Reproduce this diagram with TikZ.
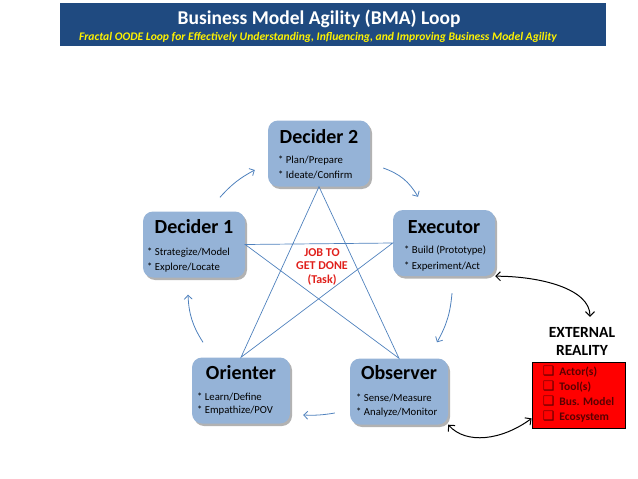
\documentclass[tikz,border=0pt]{standalone}
\usepackage{fontspec}
\setmainfont{Carlito}
\newfontfamily\symfont{DejaVu Sans}
\usetikzlibrary{arrows.meta,shadows,positioning}

\definecolor{bandblue}{HTML}{1F4A80}
\definecolor{boxblue}{HTML}{95B3D7}
\definecolor{linkblue}{HTML}{4F81BD}
\definecolor{jobred}{HTML}{E0201B}
\definecolor{itemred}{HTML}{5A0000}

\begin{document}
\begin{tikzpicture}[x=1pt,y=-1pt,
  role/.style={fill=boxblue,rounded corners=10pt,minimum width=102pt,minimum height=66pt,inner sep=0pt,
               drop shadow={shadow xshift=2pt,shadow yshift=-2.5pt,opacity=.3,fill=black}},
  rolename/.style={anchor=base,font=\fontsize{20}{24}\selectfont\bfseries},
  roletask/.style={anchor=base west,inner sep=0pt,font=\fontsize{10.7}{13}\selectfont},
  cycle/.style={draw=linkblue,line width=0.8pt,-{Straight Barb[length=4pt,width=8pt]}},
  star/.style={draw=linkblue,line width=0.7pt},
  world/.style={black,line width=1pt,{Straight Barb[length=4.5pt,width=9pt]}-{Straight Barb[length=4.5pt,width=9pt]}}]

\useasboundingbox (0,0) rectangle (638,479);

% header
\node[fill=bandblue,minimum width=546pt,minimum height=43pt,anchor=north west,inner sep=0pt] (band) at (60,3) {};
\node[anchor=base,white,font=\fontsize{19.5}{22}\selectfont\bfseries] (title) at (319,24) {Business Model Agility (BMA) Loop};
\node[anchor=base,yellow,font=\fontsize{11.6}{12}\selectfont\bfseries\itshape] (subtitle) at (318,40.5)
  {Fractal OODE Loop for Effectively Understanding, Influencing, and Improving Business Model Agility};

% the five roles
\node[role] (d2) at (319,153.5) {};
\node[role] (d1) at (194,244.5) {};
\node[role] (ex) at (444,243) {};
\node[role,minimum width=98pt] (or) at (241,390.5) {};
\node[role,minimum width=98pt] (ob) at (399,391.5) {};

\node[rolename] (d2 name) at (319,143.5) {Decider 2};
\node[roletask] (d2 a) at (278,163.5) {* Plan/Prepare};
\node[roletask] (d2 b) at (278,178.5) {* Ideate/Confirm};

\node[rolename] (d1 name) at (194,233.5) {Decider 1};
\node[roletask] (d1 a) at (147,255.5) {* Strategize/Model};
\node[roletask] (d1 b) at (147,270.5) {* Explore/Locate};

\node[rolename] (ex name) at (444,233.5) {Executor};
\node[roletask] (ex a) at (404,253.5) {* Build (Prototype)};
\node[roletask] (ex b) at (404,269.5) {* Experiment/Act};

\node[rolename] (or name) at (241,379.5) {Orienter};
\node[roletask] (or a) at (197,400.5) {* Learn/Define};
\node[roletask] (or b) at (197,413.5) {* Empathize/POV};

\node[rolename] (ob name) at (399,379.5) {Observer};
\node[roletask] (ob a) at (356,401.5) {* Sense/Measure};
\node[roletask] (ob b) at (356,415.5) {* Analyze/Monitor};

% star
\draw[star] (d2.south) -- (or.north) -- (ex.west) -- (d1.east) -- (ob.north) -- cycle;

\node[align=center,jobred,font=\fontsize{12}{13.5}\selectfont\bfseries] (job) at (322,266.5) {JOB TO\\GET DONE\\(Task)};

% loop
\draw[cycle] ([shift={(26,-14)}]d1.north) to[bend left=10] ([shift={(-13,16.5)}]d2.west);
\draw[cycle] ([shift={(13,14.5)}]d2.east) to[bend left=20] ([shift={(-26,-13)}]ex.north);
\draw[cycle] ([shift={(8,17)}]ex.south) to[bend left=12] ([shift={(38,-16)}]ob.north);
\draw[cycle] ([shift={(-15,21.5)}]ob.west) to[bend left=6] ([shift={(13,24.5)}]or.east);
\draw[cycle] ([shift={(-38,-15)}]or.north) to[bend left=15] ([shift={(-6,17)}]d1.south);

% external reality
\node[align=center,inner sep=0pt,font=\fontsize{15.5}{18}\selectfont\bfseries] (ext) at (582,341) {EXTERNAL\\REALITY};
\node[draw=black,line width=0.8pt,fill=red,minimum width=93pt,minimum height=66pt,inner sep=0pt,
      text=itemred,font=\fontsize{11.5}{15}\selectfont\bfseries] (rbox) at (578.5,395)
  {\begin{tabular}{@{}l@{\hspace{5pt}}l@{}}
   {\symfont\fontsize{13}{13}\selectfont\char"2751} & Actor(s)\\
   {\symfont\fontsize{13}{13}\selectfont\char"2751} & Tool(s)\\
   {\symfont\fontsize{13}{13}\selectfont\char"2751} & Bus. Model\\
   {\symfont\fontsize{13}{13}\selectfont\char"2751} & Ecosystem
   \end{tabular}};

\draw[world] (ex.south east) .. controls +(45,0) and +(0,-28) .. ([shift={(8,-10)}]ext.north);
\draw[world] (ob.south east) .. controls +(18,20) and +(-30,22) .. ([yshift=10pt]rbox.south west);
\end{tikzpicture}
\end{document}
